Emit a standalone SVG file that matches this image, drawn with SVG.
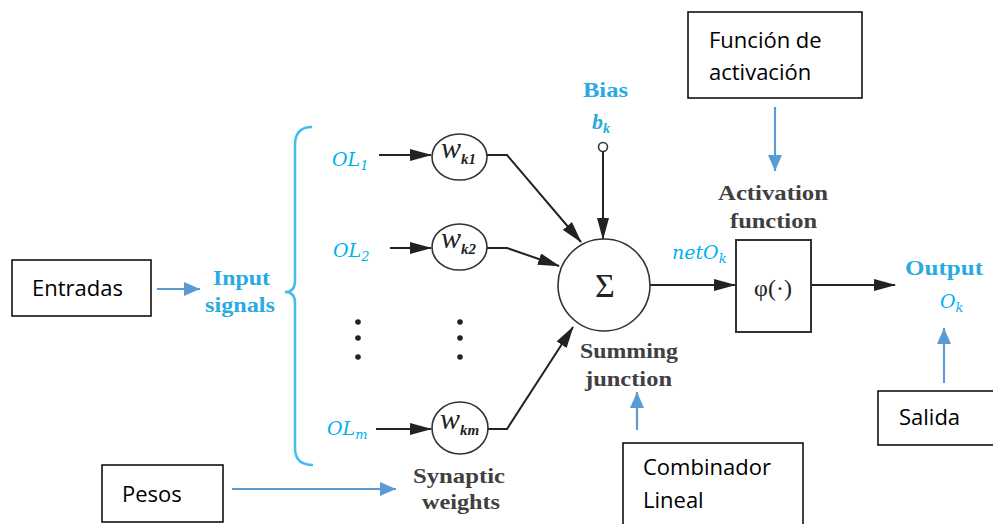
<svg xmlns="http://www.w3.org/2000/svg" width="993" height="524" viewBox="0 0 993 524">
<defs>
<style>
.box{fill:#fff;stroke:#000;stroke-width:1.5}
.lbl{font-family:"Open Sans","Liberation Sans",sans-serif;font-size:22px;fill:#000}
.ser{font-family:"Liberation Serif","Times New Roman",serif;font-size:22px;font-weight:bold;fill:#404040}
.blu{font-family:"Liberation Serif","Times New Roman",serif;font-size:22px;font-weight:bold;fill:#2aaae2}
.math{font-family:"DejaVu Serif",serif;font-style:italic;font-size:19px;fill:#00b0f0}
.wl{font-family:"Liberation Serif","Times New Roman",serif;font-style:italic;fill:#222}
.wire{fill:none;stroke:#222;stroke-width:2}
.bwire{fill:none;stroke:#5b9bd5;stroke-width:2.2}
.node{fill:#fff;stroke:#333;stroke-width:1.6}
</style>
<marker id="ah" markerUnits="userSpaceOnUse" markerWidth="22" markerHeight="12" refX="21" refY="6" orient="auto">
<path d="M0,0 L22,6 L0,12 Z" fill="#222"/>
</marker>
<marker id="bh" markerUnits="userSpaceOnUse" markerWidth="16" markerHeight="14" refX="16" refY="7" orient="auto">
<path d="M0,0 L16,7 L0,14 Z" fill="#5b9bd5"/>
</marker>
</defs>
<rect width="993" height="524" fill="#fff"/>

<g id="connectors">
<path class="wire" d="M379,155 H431" marker-end="url(#ah)"/>
<path class="wire" d="M390,248 H431" marker-end="url(#ah)"/>
<path class="wire" d="M376,429 H431" marker-end="url(#ah)"/>
<path class="wire" d="M487,155 H507 L581,242" marker-end="url(#ah)"/>
<path class="wire" d="M487,248 H507 L559,266" marker-end="url(#ah)"/>
<path class="wire" d="M488,429 H507 L573,327" marker-end="url(#ah)"/>
<path class="wire" d="M603,152 V239" marker-end="url(#ah)"/>
<path class="wire" d="M650,285 H735" marker-end="url(#ah)"/>
<path class="wire" d="M811,285 H895" marker-end="url(#ah)"/>
<path class="bwire" d="M157,289 H200" marker-end="url(#bh)"/>
<path class="bwire" d="M232,489 H396" marker-end="url(#bh)"/>
<path class="bwire" d="M775,107 V171" marker-end="url(#bh)"/>
<path class="bwire" d="M637,430 V392" marker-end="url(#bh)"/>
<path class="bwire" d="M944,383 V328" marker-end="url(#bh)"/>
</g>

<g id="input-brace">
<path d="M312,127 Q295,127 295,145 L295,281 Q295,292 285,292 Q295,292 295,303 L295,448 Q295,465 313,465" fill="none" stroke="#45bdec" stroke-width="2.5"/>
</g>

<g id="input-signals">
<text class="blu" x="213" y="285" textLength="57" lengthAdjust="spacingAndGlyphs">Input</text>
<text class="blu" x="205" y="312" textLength="70" lengthAdjust="spacingAndGlyphs">signals</text>
</g>

<g id="ol1"><text class="math" x="332" y="166">OL<tspan font-size="13" dy="4">1</tspan></text></g>
<g id="ol2"><text class="math" x="333" y="257">OL<tspan font-size="13" dy="4">2</tspan></text></g>
<g id="olm"><text class="math" x="327" y="435">OL<tspan font-size="13" dy="4">m</tspan></text></g>

<g id="w-k1">
<ellipse class="node" cx="459.5" cy="157" rx="27.5" ry="23"/>
<text class="wl" x="441" y="158" font-size="30">w<tspan font-size="15" font-weight="bold" dy="6">k1</tspan></text>
</g>
<g id="w-k2">
<ellipse class="node" cx="459.5" cy="247" rx="27.5" ry="23"/>
<text class="wl" x="441" y="248" font-size="30">w<tspan font-size="15" font-weight="bold" dy="6">k2</tspan></text>
</g>
<g id="w-km">
<ellipse class="node" cx="460" cy="428" rx="28" ry="26"/>
<text class="wl" x="440" y="429" font-size="30">w<tspan font-size="15" font-weight="bold" dy="6">km</tspan></text>
</g>

<g id="dots">
<circle cx="358" cy="322" r="2.8" fill="#222"/>
<circle cx="358" cy="338" r="2.8" fill="#222"/>
<circle cx="358" cy="357" r="2.8" fill="#222"/>
<circle cx="460" cy="322" r="2.8" fill="#222"/>
<circle cx="460" cy="338" r="2.8" fill="#222"/>
<circle cx="460" cy="357" r="2.8" fill="#222"/>
</g>

<g id="synaptic-weights">
<text class="ser" x="413" y="483" textLength="92" lengthAdjust="spacingAndGlyphs">Synaptic</text>
<text class="ser" x="422" y="509" textLength="78" lengthAdjust="spacingAndGlyphs">weights</text>
</g>

<g id="bias">
<text class="blu" x="583" y="97" textLength="45" lengthAdjust="spacingAndGlyphs">Bias</text>
<text class="blu" x="592" y="129" font-style="italic">b<tspan font-size="14" dy="4">k</tspan></text>
<circle cx="603" cy="147" r="4.5" fill="#fff" stroke="#333" stroke-width="1.6"/>
</g>

<g id="summing-junction">
<circle class="node" cx="604" cy="285" r="46"/>
<text x="605" y="297" font-family="Liberation Serif, serif" font-size="34" fill="#222" text-anchor="middle">Σ</text>
<text class="ser" x="580" y="358" textLength="98" lengthAdjust="spacingAndGlyphs">Summing</text>
<text class="ser" x="585" y="386" textLength="87" lengthAdjust="spacingAndGlyphs">junction</text>
</g>

<g id="net-ok"><text class="math" x="672" y="259">netO<tspan font-size="13" dy="4">k</tspan></text></g>

<g id="activation-function">
<rect x="736" y="240" width="75" height="92" fill="#fff" stroke="#333" stroke-width="2"/>
<text x="773" y="296" font-family="Liberation Serif, serif" font-size="24" fill="#222" text-anchor="middle">φ(·)</text>
<text class="ser" x="718" y="200" textLength="110" lengthAdjust="spacingAndGlyphs">Activation</text>
<text class="ser" x="730" y="228" textLength="87" lengthAdjust="spacingAndGlyphs">function</text>
</g>

<g id="output">
<text class="blu" x="905" y="275" textLength="78" lengthAdjust="spacingAndGlyphs">Output</text>
<text class="math" x="940" y="308">O<tspan font-size="13" dy="4">k</tspan></text>
</g>

<g id="box-funcion">
<rect class="box" x="688" y="12" width="174" height="86"/>
<text class="lbl" x="709" y="48">Función de</text>
<text class="lbl" x="709" y="80">activación</text>
</g>
<g id="box-entradas">
<rect class="box" x="12" y="260" width="139" height="56"/>
<text class="lbl" x="32" y="296">Entradas</text>
</g>
<g id="box-pesos">
<rect class="box" x="102" y="465" width="121" height="57"/>
<text class="lbl" x="122" y="502">Pesos</text>
</g>
<g id="box-combinador">
<rect class="box" x="623" y="443" width="180" height="90"/>
<text class="lbl" x="643" y="475">Combinador</text>
<text class="lbl" x="643" y="508">Lineal</text>
</g>
<g id="box-salida">
<rect class="box" x="878" y="391" width="120" height="54"/>
<text class="lbl" x="899" y="425">Salida</text>
</g>
</svg>
